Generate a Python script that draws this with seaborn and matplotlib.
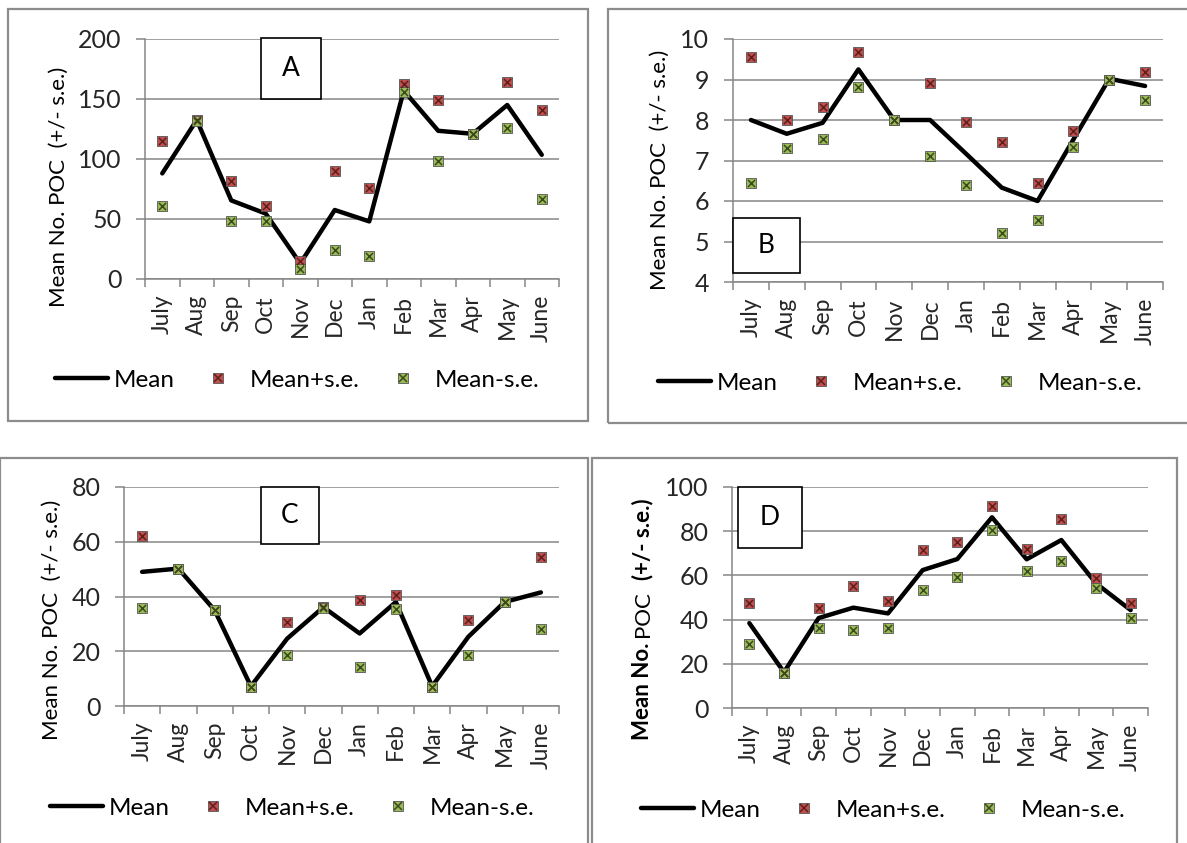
import numpy as np
import pandas as pd
import matplotlib
matplotlib.use("Agg")
import matplotlib.pyplot as plt
from matplotlib.patches import Rectangle
from matplotlib.lines import Line2D
from matplotlib.legend_handler import HandlerTuple
import seaborn as sns

# ---- data -------------------------------------------------------------
months = ["July", "Aug", "Sep", "Oct", "Nov", "Dec",
          "Jan", "Feb", "Mar", "Apr", "May", "June"]

a_mean = [88, 132.5, 65.5, 54.5, 13, 57.5, 48, 157, 123.5, 121, 145, 103.5]
a_plus = [115, 132.5, 82, 61, 15, 90, 76, 162.5, 149, 121, 164.5, 140.5]
a_minus = [61, 132, 48.5, 48, 8.5, 24.5, 19.5, 155.5, 98, 120.5, 125.5, 66.5]

b_mean = [8.0, 7.66, 7.93, 9.25, 8.0, 8.0, 7.17, 6.33, 6.0, 7.52, 9.02, 8.84]
b_plus = [9.55, 8.0, 8.33, 9.68, 8.0, 8.91, 7.95, 7.46, 6.45, 7.72, 9.0, 9.18]
b_minus = [6.45, 7.32, 7.52, 8.82, 8.0, 7.1, 6.39, 5.2, 5.54, 7.33, 9.0, 8.49]

c_mean = [49, 50.2, 35, 7.2, 24.6, 36.1, 26.5, 38, 7.2, 25.3, 38, 41.5]
c_plus = [62.2, 50.2, 35, 7, 30.6, 36.1, 38.9, 40.7, 7, 31.3, 38, 54.4]
c_minus = [35.9, 50, 35, 6.8, 18.5, 35.9, 14.3, 35.6, 6.8, 18.7, 37.9, 28.3]

d_mean = [38.4, 16.2, 40.7, 45.4, 42.8, 62.4, 67.4, 86.3, 67.3, 76.0, 56.4, 44.3]
d_plus = [47.6, 15.9, 45.1, 55.0, 48.5, 71.4, 75.3, 91.4, 72.1, 85.5, 58.6, 47.3]
d_minus = [28.8, 15.9, 36.1, 35.5, 36.4, 53.3, 59.3, 80.6, 61.9, 66.4, 54.2, 40.9]

legend_labels = ["Mean", "Mean+s.e.", "Mean-s.e."]
y_title = "Mean No. POC  (+/- s.e.)"

# ---- style ------------------------------------------------------------
W, H = 1187, 843
sns.set_theme(style="white")
plt.rcParams["font.family"] = ["Lato", "DejaVu Sans"]
plt.rcParams["text.color"] = "black"

GRAY = "#868686"
FRAME = "#8c8c8c"
RED = "#C0504D"
RED_X = "#5e1f1d"
GREEN = "#9BBB59"
GREEN_X = "#3b4a1e"
FS_TICK = 18
FS_LEG = 17.5
FS_YLAB = 16
LW = 3.2

fig = plt.figure(figsize=(W / 100, H / 100), dpi=100)
fig.patch.set_facecolor("white")


def fx(px):
    return px / W


def fy(py):
    return 1 - py / H


panels = [
    dict(tag="A", ax=(145, 39, 559, 279), mean=a_mean, plus=a_plus, minus=a_minus,
         ylim=(0, 200), step=50, frame=(8, 9, 588, 421), ylab=(59, 187),
         leg=(55, 380), box=(261, 38, 321, 99), bold=False),
    dict(tag="B", ax=(733, 39, 1163, 282), mean=b_mean, plus=b_plus, minus=b_minus,
         ylim=(4, 10), step=1, frame=(608, 9, 1192, 423), ylab=(660, 170),
         leg=(658, 383), box=(733, 218, 800, 273), bold=False),
    dict(tag="C", ax=(124, 487, 559, 706), mean=c_mean, plus=c_plus, minus=c_minus,
         ylim=(0, 80), step=20, frame=(0, 458, 588, 850), ylab=(52, 620),
         leg=(50, 808), box=(261, 487, 319, 544), bold=False),
    dict(tag="D", ax=(732, 487, 1148, 708), mean=d_mean, plus=d_plus, minus=d_minus,
         ylim=(0, 100), step=20, frame=(592, 458, 1177, 850), ylab=(641, 619),
         leg=(641, 810), box=(738, 487, 802, 548), bold=True),
]


def marker_handle(fill, xcol):
    sq = Line2D([], [], ls="", marker="s", ms=6.8, mfc=fill, mec="#555555", mew=0.6)
    xx = Line2D([], [], ls="", marker="x", ms=5.2, color=xcol, mew=1.1)
    return (sq, xx)


def mixed_vertical_label(xc, yc, parts, size):
    """Stack text pieces of different weight along a vertical baseline."""
    renderer = fig.canvas.get_renderer()
    probe1 = fig.text(0, 0, "M M", fontsize=size)
    probe2 = fig.text(0, 0, "MM", fontsize=size)
    space = (probe1.get_window_extent(renderer).width
             - probe2.get_window_extent(renderer).width)
    probe1.remove()
    probe2.remove()
    texts, lens = [], []
    for s, w, gap in parts:
        t = fig.text(0, 0, s, fontsize=size, fontweight=w, rotation=90,
                     rotation_mode="anchor", ha="left", va="baseline")
        texts.append(t)
        lens.append(t.get_window_extent(renderer).height)
    gaps = [p[2] * space for p in parts]
    total = sum(lens) + sum(gaps[:-1])
    y = (H - yc) - total / 2
    xb = xc + 0.36 * size * 100 / 72
    for t, L, g in zip(texts, lens, gaps):
        t.set_position((xb / W, y / H))
        y += L + g


for p in panels:
    l, t, r, b = p["ax"]
    ax = fig.add_axes([fx(l), fy(b), (r - l) / W, (b - t) / H])
    df = pd.DataFrame({"pos": np.arange(len(months)), "month": months,
                       "mean": p["mean"], "plus": p["plus"], "minus": p["minus"]})

    sns.lineplot(data=df, x="pos", y="mean", ax=ax, color="black", lw=LW,
                 legend=False, zorder=2, solid_joinstyle="round",
                 solid_capstyle="round")
    for col, fill, xcol in (("plus", RED, RED_X), ("minus", GREEN, GREEN_X)):
        sns.scatterplot(data=df, x="pos", y=col, ax=ax, marker="s", s=46,
                        color=fill, edgecolor="#555555", linewidth=0.6,
                        zorder=3, legend=False)
        sns.scatterplot(data=df, x="pos", y=col, ax=ax, marker="x", s=27,
                        color=xcol, linewidth=1.1, zorder=4, legend=False)

    lo, hi = p["ylim"]
    ax.set_xlim(-0.5, len(months) - 0.5)
    ax.set_ylim(lo, hi)
    ax.set_yticks(np.arange(lo, hi + p["step"] / 2, p["step"]))
    ax.set_xticks(np.arange(len(months)))
    ax.set_xticklabels(months, rotation=90, ha="center", va="top", fontsize=16.5)
    ax.set_xticks(np.arange(-0.5, len(months), 1), minor=True)
    ax.set_xlabel("")
    ax.set_ylabel("")
    ax.tick_params(axis="y", which="major", length=6.5, width=1.1, color=GRAY,
                   direction="out", pad=10.5, labelsize=FS_TICK, left=True)
    ax.tick_params(axis="x", which="major", length=0, pad=11.5)
    ax.tick_params(axis="x", which="minor", length=5.5, width=1.1, color=GRAY,
                   direction="out", bottom=True)
    ax.grid(axis="y", color=GRAY, lw=1.1)
    ax.grid(axis="x", visible=False)
    ax.set_axisbelow(True)
    for side in ("top", "right"):
        ax.spines[side].set_visible(False)
    for side in ("left", "bottom"):
        ax.spines[side].set_color(GRAY)
        ax.spines[side].set_linewidth(1.1)
    ax.patch.set_alpha(0)

    # panel frame
    fl, ft, fr, fb = p["frame"]
    fig.add_artist(Rectangle((fx(fl), fy(fb)), (fr - fl) / W, (fb - ft) / H,
                             transform=fig.transFigure, fill=False, ec=FRAME, lw=1.6))

    # y axis title
    xc, yc = p["ylab"]
    if p["bold"]:
        mixed_vertical_label(xc, yc, [("Mean No.", "bold", 1),
                                      ("POC", "normal", 2),
                                      ("(+/- s.e.)", "bold", 0)], FS_YLAB)
    else:
        fig.text(fx(xc), fy(yc), y_title, rotation=90, ha="center", va="center",
                 fontsize=FS_YLAB)

    # legend
    handles = [Line2D([], [], color="black", lw=LW, solid_capstyle="round"),
               marker_handle(RED, RED_X), marker_handle(GREEN, GREEN_X)]
    lx, ly = p["leg"]
    fig.legend(handles, legend_labels, loc="center left",
               bbox_to_anchor=(fx(lx), fy(ly)), bbox_transform=fig.transFigure,
               ncol=3, frameon=False, fontsize=FS_LEG, handlelength=2.2,
               handletextpad=0.2, columnspacing=0.7, borderpad=0,
               borderaxespad=0, handler_map={tuple: HandlerTuple(ndivide=1)})

    # panel letter box
    bl, bt, br, bb = p["box"]
    fig.add_artist(Rectangle((fx(bl), fy(bb)), (br - bl) / W, (bb - bt) / H,
                             transform=fig.transFigure, fc="white", ec="black",
                             lw=1.2, zorder=5))
    fig.text(fx((bl + br) / 2), fy((bt + bb) / 2), p["tag"], ha="center",
             va="center", fontsize=19, zorder=6)

fig.savefig("out.png", dpi=100, facecolor="white")
